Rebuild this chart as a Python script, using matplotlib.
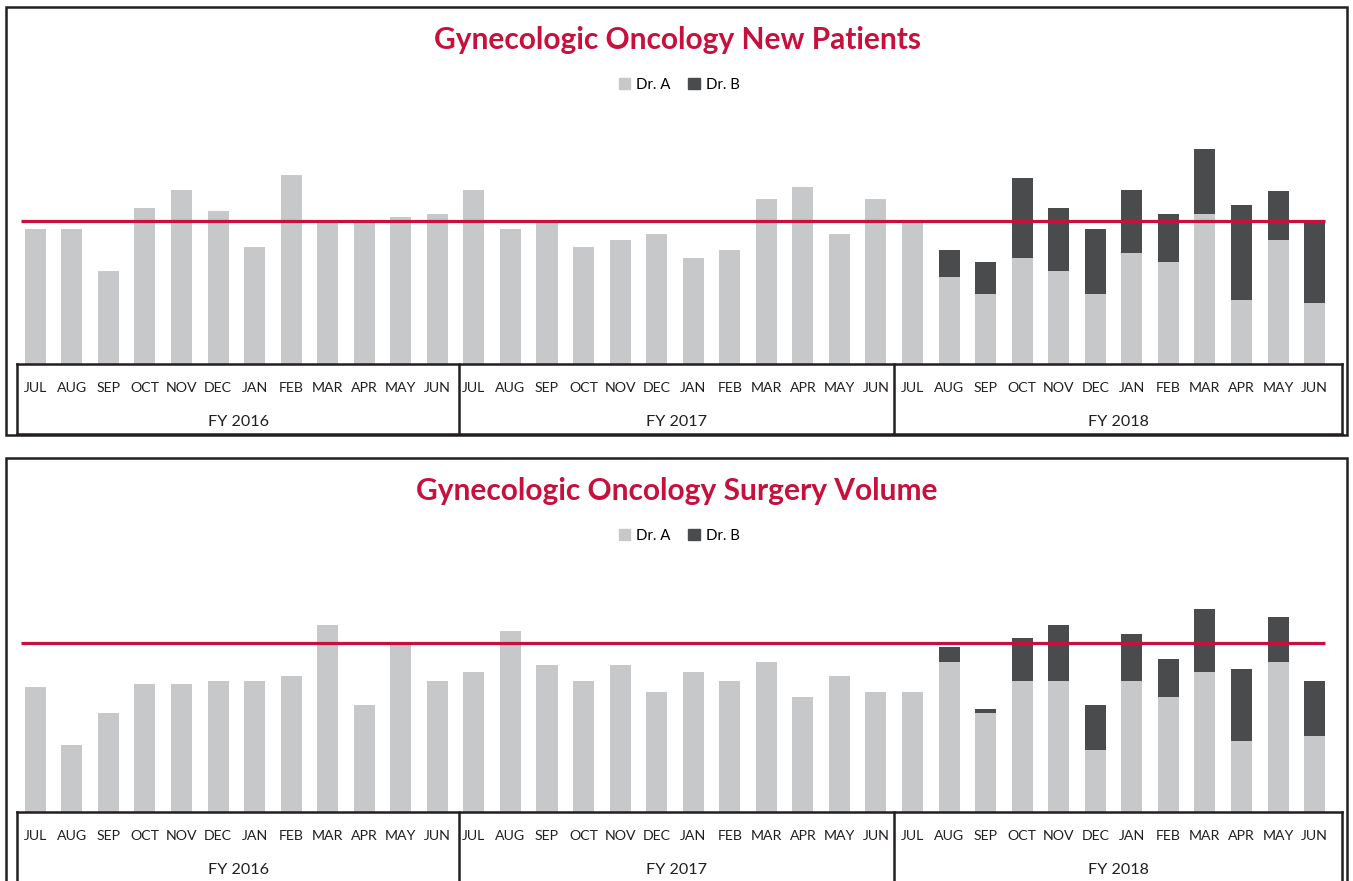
"""Gynecologic Oncology volume charts: new patients and surgery volume by month, FY2016-FY2018."""
import matplotlib
matplotlib.use("Agg")
import matplotlib.pyplot as plt
import matplotlib.transforms as mtransforms
from matplotlib.patches import Patch, Rectangle
from matplotlib.lines import Line2D
import numpy as np

MONTHS = ["JUL", "AUG", "SEP", "OCT", "NOV", "DEC", "JAN", "FEB", "MAR", "APR", "MAY", "JUN"]
YEARS = ["FY 2016", "FY 2017", "FY 2018"]

# New patients (no axis shown)
np_dr_a = [45, 45, 31, 51.7, 57.7, 51, 39, 63, 47.7, 47.7, 48.7, 49.7,
           57.7, 45, 47.7, 39, 41.3, 43.3, 35.3, 38, 55, 58.7, 43.3, 55,
           47.4, 29, 23.3, 35.3, 31, 23.3, 37, 34, 49.7, 21.3, 41.3, 20.3]
np_dr_b = [0] * 24 + [0, 9, 10.7, 26.7, 20.7, 21.7, 20.7, 15.7, 21.7, 31.7, 16.3, 27]
np_target = 47.4

# Surgery volume
sv_dr_a = [41.5, 22.2, 32.8, 42.5, 42.5, 43.5, 43.5, 45.2, 62.2, 35.5, 55.8, 43.5,
           46.5, 60.2, 48.8, 43.5, 48.8, 39.8, 46.5, 43.5, 49.8, 38.2, 45.2, 39.8,
           39.8, 49.8, 32.8, 43.5, 43.5, 20.5, 43.5, 38.2, 46.5, 23.5, 49.8, 25.2]
sv_dr_b = [0] * 24 + [0, 5, 1.3, 14.3, 18.7, 15, 15.7, 12.7, 21, 24, 15, 18.3]
sv_target = 56.1

LIGHT = "#c7c8ca"
DARK = "#4a4b4d"
RED = "#c8103c"
INK = "#231f20"
FONT = ["Lato", "DejaVu Sans"]

W, H = 1353, 881
fig = plt.figure(figsize=(W / 100, H / 100), dpi=100)


def fy(p):  # pixel row -> figure fraction
    return 1 - p / H


def fx(p):
    return p / W


def panel(title, dr_a, dr_b, target, top, ax_top, base):
    # outer frame
    fig.add_artist(Rectangle((fx(6), fy(top + 428)), fx(1341), 428 / H, fill=False,
                             lw=1.8, ec=INK, transform=fig.transFigure))
    ax = fig.add_axes([fx(17), fy(base), fx(1342 - 17), (base - ax_top) / H])
    x = np.arange(len(dr_a))
    wd = 0.575
    ax.bar(x, dr_a, wd, color=LIGHT, label="Dr. A", zorder=2)
    ax.bar(x, dr_b, wd, bottom=dr_a, color=DARK, label="Dr. B", zorder=2)
    ax.hlines(target, -0.4, x[-1] + wd / 2, color=RED, lw=2.3, zorder=3)
    ax.set_xlim(-0.5, 35.75)
    ax.set_ylim(0, (base - ax_top) / 3)
    ax.axis("off")

    # category box under the bars
    tr = mtransforms.blended_transform_factory(ax.transData, fig.transFigure)
    edges = [-0.5, 11.6, 23.5, 35.75]
    yb = fy(base + 70.5)
    ax.add_line(Line2D([edges[0], edges[-1]], [fy(base), fy(base)], transform=tr,
                       color=INK, lw=1.8, clip_on=False))
    ax.add_line(Line2D([edges[0], edges[-1]], [yb, yb], transform=tr,
                       color=INK, lw=1.8, clip_on=False))
    for e in edges:
        ax.add_line(Line2D([e, e], [fy(base), yb], transform=tr, color=INK, lw=1.8,
                           clip_on=False))
    for i in x:
        ax.text(i, fy(base + 25), MONTHS[i % 12], transform=tr, ha="center", va="center",
                fontsize=10.2, color=INK, family=FONT)
    for k, yr in enumerate(YEARS):
        ax.text((edges[k] + edges[k + 1]) / 2, fy(base + 59), yr, transform=tr,
                ha="center", va="center", fontsize=11.6, color=INK, family=FONT)

    fig.text(fx(677), fy(top + 33), title, ha="center", va="center", fontsize=21.5,
             fontweight="bold", color=RED, family=FONT)
    handles = [Patch(color=LIGHT, label="Dr. A"), Patch(color=DARK, label="Dr. B")]
    fig.legend(handles=handles, loc="center", bbox_to_anchor=(fx(679), fy(top + 78)),
               ncol=2, frameon=False, handlelength=0.75, handleheight=0.75,
               handletextpad=0.4, columnspacing=1.2, prop={"family": FONT, "size": 10.8})
    return ax


panel("Gynecologic Oncology New Patients", np_dr_a, np_dr_b, np_target, 7, 100, 363.5)
panel("Gynecologic Oncology Surgery Volume", sv_dr_a, sv_dr_b, sv_target, 458, 560, 811.5)

fig.savefig("out.png", dpi=100)
